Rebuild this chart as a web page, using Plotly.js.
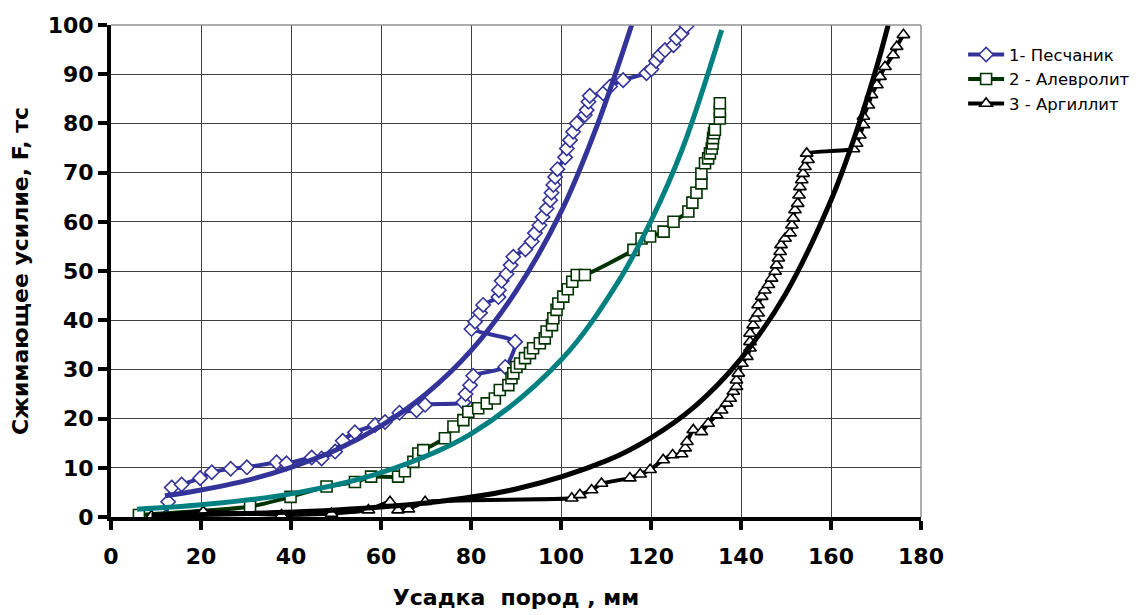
<!DOCTYPE html>
<html>
<head>
<meta charset="utf-8">
<script src="https://cdn.plot.ly/plotly-3.0.1.min.js"></script>
<style>html,body{margin:0;padding:0;background:#fff;}#chart{width:1142px;height:615px;}</style>
</head>
<body>
<div id="chart"></div>
<script>
// Series 1 - Песчаник
var s1x = [12.2,12.7,13.5,15.7,19.8,22.4,26.6,30.2,36.8,39,44.6,46.8,49.8,51.5,54.2,58.7,60.9,64.1,67.9,69.8,78.3,78.8,79.8,80.5,87.6,89.8,80.1,80.9,82,82.7,86.1,86.2,86.8,87.9,88.8,89.4,92.1,93.5,94.2,95.2,95.9,96.8,97.6,97.9,98.3,98.7,99.2,100.9,101.3,102,102.7,103.5,105.3,105.7,106.1,106.4,109.4,110.9,113.8,119,120.1,121.1,122,123.1,125,125.7,126.8,127.9];
var s1y = [0,3.1,6.0,6.6,7.9,9.1,9.8,10.1,11.1,10.9,12.1,11.9,13.3,15.5,17.2,18.7,19.3,21.2,21.7,22.8,23.3,25.0,26.8,28.7,30.5,35.6,38.2,39.7,41.5,43.1,44.7,46.1,48.0,49.4,51.2,52.9,54.4,56.0,57.7,59.3,61.0,62.7,64.4,65.9,67.5,69.1,70.7,73.1,74.9,76.6,78.3,80.0,81.7,82.7,84.4,85.6,86.1,87.5,88.8,90.2,91.0,92.7,93.9,94.9,95.9,97.3,98.3,99.8];
// Series 2 - Алевролит
var s2x = [6.2,30.9,39.9,47.9,54.2,57.8,63.8,65.3,67.2,68.3,69.4,74.2,76.1,78.3,79.4,81.6,83.5,85.3,86.4,88.3,89,89.4,90.1,90.9,92,93.1,93.8,95.3,96.4,96.8,98,98.3,99,99.4,100.5,101.5,102.5,103.5,105.3,116.1,117.9,119.8,122.8,125,128.3,129.2,130.1,131.2,131.2,132,132.7,133.1,133.5,133.7,133.8,134,134.2,135.3,135.3,135.3];
var s2y = [0.4,2.1,4.1,6.2,7.1,8.2,8.2,9.3,11.2,12.9,13.6,16.0,18.4,19.7,21.4,22.1,23.1,24.1,25.8,26.8,28.2,29.2,30.5,31.2,32.3,33.3,34.3,35.3,36.3,37.7,39.0,40.4,42.1,43.4,44.8,46.3,47.8,49.2,49.2,54.3,56.6,57.0,58.0,60.0,62.1,63.9,65.9,67.8,69.8,71.9,72.9,73.9,74.9,75.9,77.0,78.0,78.7,81.0,82.4,84.1];
// Series 3 - Аргиллит
var s3x = [9,20.5,37.9,49,57.2,62,63.8,66.1,69.8,102.4,104.2,106.8,109,115.3,117.6,119.8,122.7,124.8,126.8,127.6,128,129.4,131.2,132.7,134.6,135.7,136.8,137.6,138.3,139,139,139.4,140.2,141.3,142,142,142,142.7,143.1,143.8,143.8,144.6,145.3,146.1,146.8,147.6,147.9,148.3,148.7,148.9,149.8,150.9,151.3,151.6,152,152.6,152.9,153.1,153.5,153.8,154.2,154.9,154.6,165,165.7,166.4,167.2,167.2,168.3,169,170.2,170.9,172,173.8,174.6,176.1];
var s3y = [0.2,1.1,0.4,0.7,1.4,3.1,1.4,1.6,3.1,3.8,4.5,5.5,6.8,7.9,8.7,9.6,11.6,12.6,12.8,14.0,15.3,17.7,17.3,19.0,20.7,21.7,23.1,24.1,25.5,26.5,27.8,29.2,31.2,32.6,34.3,35.6,37.3,39.0,40.4,41.4,43.1,44.8,46.1,47.2,48.5,49.9,51.2,52.6,53.9,55.3,56.6,57.7,59.3,60.7,62.4,63.7,65.4,67.1,68.5,69.8,71.2,72.6,73.9,74.8,75.9,77.6,79.7,81.4,83.7,85.8,87.8,89.5,91.5,93.9,95.6,98.0];
// Trend lines
var t1x = [12,20,30,40,50,60,70,80,90,100,108,115.7];
var t1y = [4.3,5.5,7.4,10.1,13.6,18.5,25,33.8,45.9,62,79.5,100];
var t2x = [5.8,20,40,60,80,100,112.7,120,127,135.7];
var t2y = [1.6,2.5,4.7,9.0,16.9,31.9,47.8,60.2,74.9,99];
var t3x = [9,30,50,70,90,110,120,130,140,150,160,165,170,172.7];
var t3y = [0.34,0.71,1.42,2.84,5.68,11.4,16.1,22.7,32.2,45.5,64.4,76.6,91,100];

var names = ['1- Песчаник','2 - Алевролит','3 - Аргиллит'];
var colBlue = '#333399', colGreen = '#003300', colBlack = '#000000', colTeal = '#008080';

var traces = [
  {x:s1x, y:s1y, name:names[0], mode:'lines+markers', line:{color:colBlue,width:4,shape:'spline',smoothing:0.6},
   marker:{symbol:'diamond',size:11,color:'#ffffff',line:{color:colBlue,width:1.6}}},
  {x:s2x, y:s2y, name:names[1], mode:'lines+markers', line:{color:colGreen,width:4,shape:'spline',smoothing:0.4},
   marker:{symbol:'square',size:11,color:'#ffffff',line:{color:colGreen,width:1.6}}},
  {x:s3x, y:s3y, name:names[2], mode:'lines+markers', line:{color:colBlack,width:4,shape:'spline',smoothing:0.4},
   marker:{symbol:'triangle-up',size:11,color:'#ffffff',line:{color:colBlack,width:1.6}}},
  {x:t1x, y:t1y, mode:'lines', showlegend:false, hoverinfo:'skip', line:{color:colBlue,width:5,shape:'spline'}},
  {x:t2x, y:t2y, mode:'lines', showlegend:false, hoverinfo:'skip', line:{color:colTeal,width:5,shape:'spline'}},
  {x:t3x, y:t3y, mode:'lines', showlegend:false, hoverinfo:'skip', line:{color:colBlack,width:5,shape:'spline'}}
];

var fam = 'DejaVu Sans, Liberation Sans, Arial, sans-serif';
var tickFont = {family:fam, size:22, color:'#000', weight:'bold'};
var layout = {
  width:1142, height:615,
  margin:{l:111, r:221, t:25, b:98, autoexpand:false},
  paper_bgcolor:'#ffffff', plot_bgcolor:'#ffffff',
  showlegend:true,
  legend:{x:1.052, y:0.975, xanchor:'left', yanchor:'top', font:{family:fam, size:16.5, color:'#000'}, tracegroupgap:0, itemwidth:36, bgcolor:'rgba(0,0,0,0)'},
  xaxis:{range:[0,180], dtick:20, tick0:0, showgrid:true, gridcolor:'#404040', gridwidth:1,
    showline:true, linecolor:'#000', linewidth:4, ticks:'outside', ticklen:9, tickwidth:4, tickcolor:'#000',
    tickfont:tickFont, ticklabelstandoff:8, zeroline:false, mirror:false, fixedrange:true, automargin:false,
    title:{text:'Усадка  пород , мм', font:{family:fam, size:22, color:'#000', weight:'bold'}, standoff:22}},
  yaxis:{range:[0,100], dtick:10, tick0:0, showgrid:true, gridcolor:'#404040', gridwidth:1,
    showline:true, linecolor:'#000', linewidth:4, ticks:'outside', ticklen:9, tickwidth:4, tickcolor:'#000',
    tickfont:tickFont, zeroline:false, fixedrange:true, automargin:false,
    title:{text:'Сжимающее усилие, F, тс', font:{family:fam, size:22, color:'#000', weight:'bold'}, standoff:14}},
  shapes:[
    {type:'line', xref:'paper', yref:'paper', x0:0, x1:1, y0:1, y1:1, line:{color:'#909090', width:1.5}},
    {type:'line', xref:'paper', yref:'paper', x0:1, x1:1, y0:0, y1:1, line:{color:'#909090', width:1.5}}
  ]
};
Plotly.newPlot('chart', traces, layout, {displayModeBar:false, staticPlot:true});
</script>
</body>
</html>
